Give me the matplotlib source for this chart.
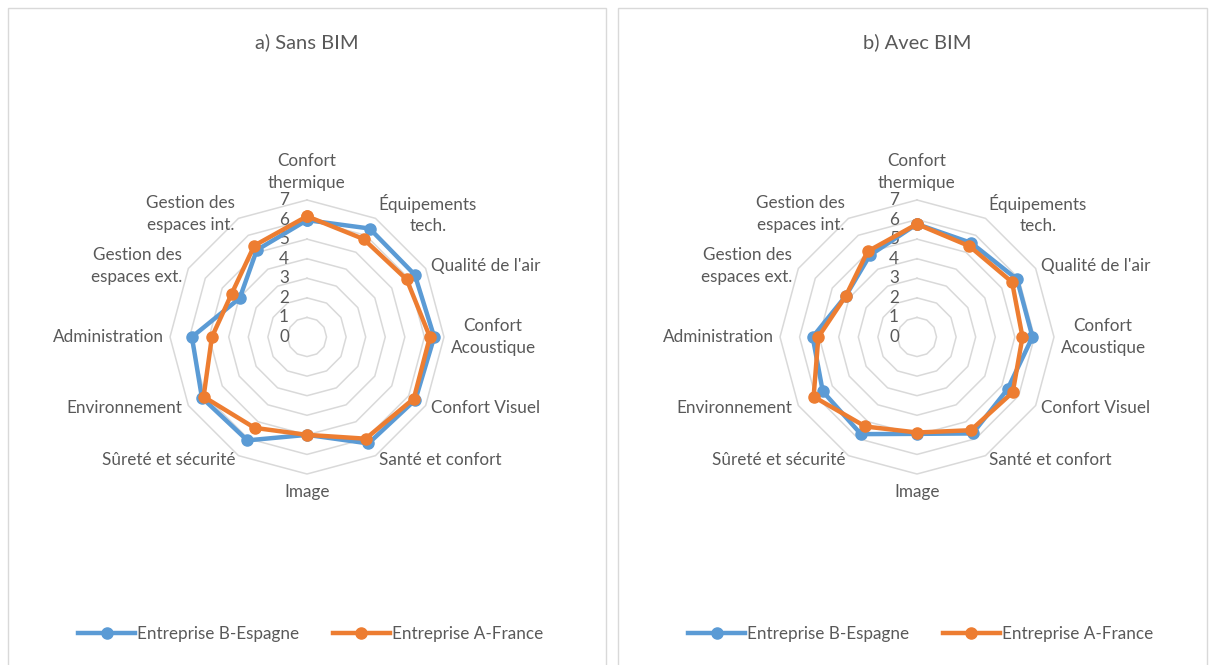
import numpy as np
import matplotlib
matplotlib.use("Agg")
import matplotlib.pyplot as plt
from matplotlib.patches import Rectangle

categories = ["Confort\nthermique", "Équipements\ntech.", "Qualité de l'air",
              "Confort\nAcoustique", "Confort Visuel", "Santé et confort", "Image",
              "Sûreté et sécurité", "Environnement", "Administration",
              "Gestion des\nespaces ext.", "Gestion des\nespaces int."]
series_names = ["Entreprise B-Espagne", "Entreprise A-France"]
titles = ["a) Sans BIM", "b) Avec BIM"]

sans_bim_espagne = [5.97, 6.40, 6.36, 6.50, 6.40, 6.28, 5.00, 6.10, 6.20, 5.88, 3.97, 5.13]
sans_bim_france  = [6.17, 5.78, 5.88, 6.28, 6.30, 6.00, 5.00, 5.36, 6.10, 4.86, 4.44, 5.39]
avec_bim_espagne = [5.77, 5.55, 5.90, 5.90, 5.34, 5.69, 4.95, 5.73, 5.56, 5.33, 4.20, 4.82]
avec_bim_france  = [5.77, 5.36, 5.61, 5.39, 5.65, 5.50, 4.88, 5.28, 6.10, 5.04, 4.20, 5.05]
radial_ticks = [0, 1, 2, 3, 4, 5, 6, 7]

plt.rcParams['font.family'] = ['Lato', 'DejaVu Sans']
TXT = '#595959'
GRID = '#d9d9d9'
BLUE = '#5B9BD5'
ORANGE = '#ED7D31'
FS = 12.3

W, H = 1210, 665
fig = plt.figure(figsize=(W / 100, H / 100), dpi=100)

# panel borders
for x0, x1 in [(8, 606), (618, 1207)]:
    fig.patches.append(Rectangle((x0 / W, -0.02), (x1 - x0) / W, 1.02 - 8 / H,
                                 transform=fig.transFigure, fill=False,
                                 edgecolor=GRID, lw=1.0))

n = len(categories)
angles = np.arange(n) * 2 * np.pi / n
closed = np.append(angles, angles[0])

R = 137
panels = [(307, sans_bim_espagne, sans_bim_france, titles[0]),
          (917, avec_bim_espagne, avec_bim_france, titles[1])]

for cx, esp, fra, title in panels:
    cy = 337
    ax = fig.add_axes([(cx - R) / W, (H - cy - R) / H, 2 * R / W, 2 * R / H],
                      projection='polar')
    ax.set_theta_offset(np.pi / 2)
    ax.set_theta_direction(-1)
    ax.set_ylim(0, radial_ticks[-1])
    ax.grid(False)
    ax.set_xticks([])
    ax.set_yticks([])
    ax.spines['polar'].set_visible(False)
    ax.patch.set_visible(False)

    for k in radial_ticks[1:]:
        ax.plot(closed, [k] * (n + 1), color=GRID, lw=1.1, clip_on=False, zorder=1)
    for k in radial_ticks:
        ax.annotate(str(k), xy=(0, k), xytext=(-18, 0), textcoords='offset pixels',
                    ha='right', va='center', fontsize=FS, color=TXT)

    for vals, col, name in [(esp, BLUE, series_names[0]), (fra, ORANGE, series_names[1])]:
        v = list(vals) + [vals[0]]
        ax.plot(closed, v, color=col, lw=3.2, marker='o', ms=8, clip_on=False,
                label=name, zorder=3)

    for ang, lab in zip(angles, categories):
        s, c = np.sin(ang), np.cos(ang)
        if abs(s) < 1e-6:
            ha = 'center'
            va = 'bottom' if c > 0 else 'top'
            off = (0, 9 if c > 0 else -10)
        else:
            ha = 'left' if s > 0 else 'right'
            va = 'center'
            off = (6.5 * s, 5 * c)
        ax.annotate(lab, xy=(ang, radial_ticks[-1]), xytext=off,
                    textcoords='offset pixels', ha=ha, va=va, fontsize=FS,
                    color=TXT, multialignment='center', linespacing=1.45)

    fig.text(cx / W, (H - 42) / H, title, ha='center', va='center',
             fontsize=14.5, color=TXT)

    handles, labels = ax.get_legend_handles_labels()
    fig.legend(handles, labels, loc='center', bbox_to_anchor=(cx / W + 0.003, (H - 634) / H),
               ncol=2, frameon=False, fontsize=FS, labelcolor=TXT,
               handlelength=3.3, handletextpad=0.12, columnspacing=2.0, numpoints=1)

fig.savefig('out.png', dpi=100)
